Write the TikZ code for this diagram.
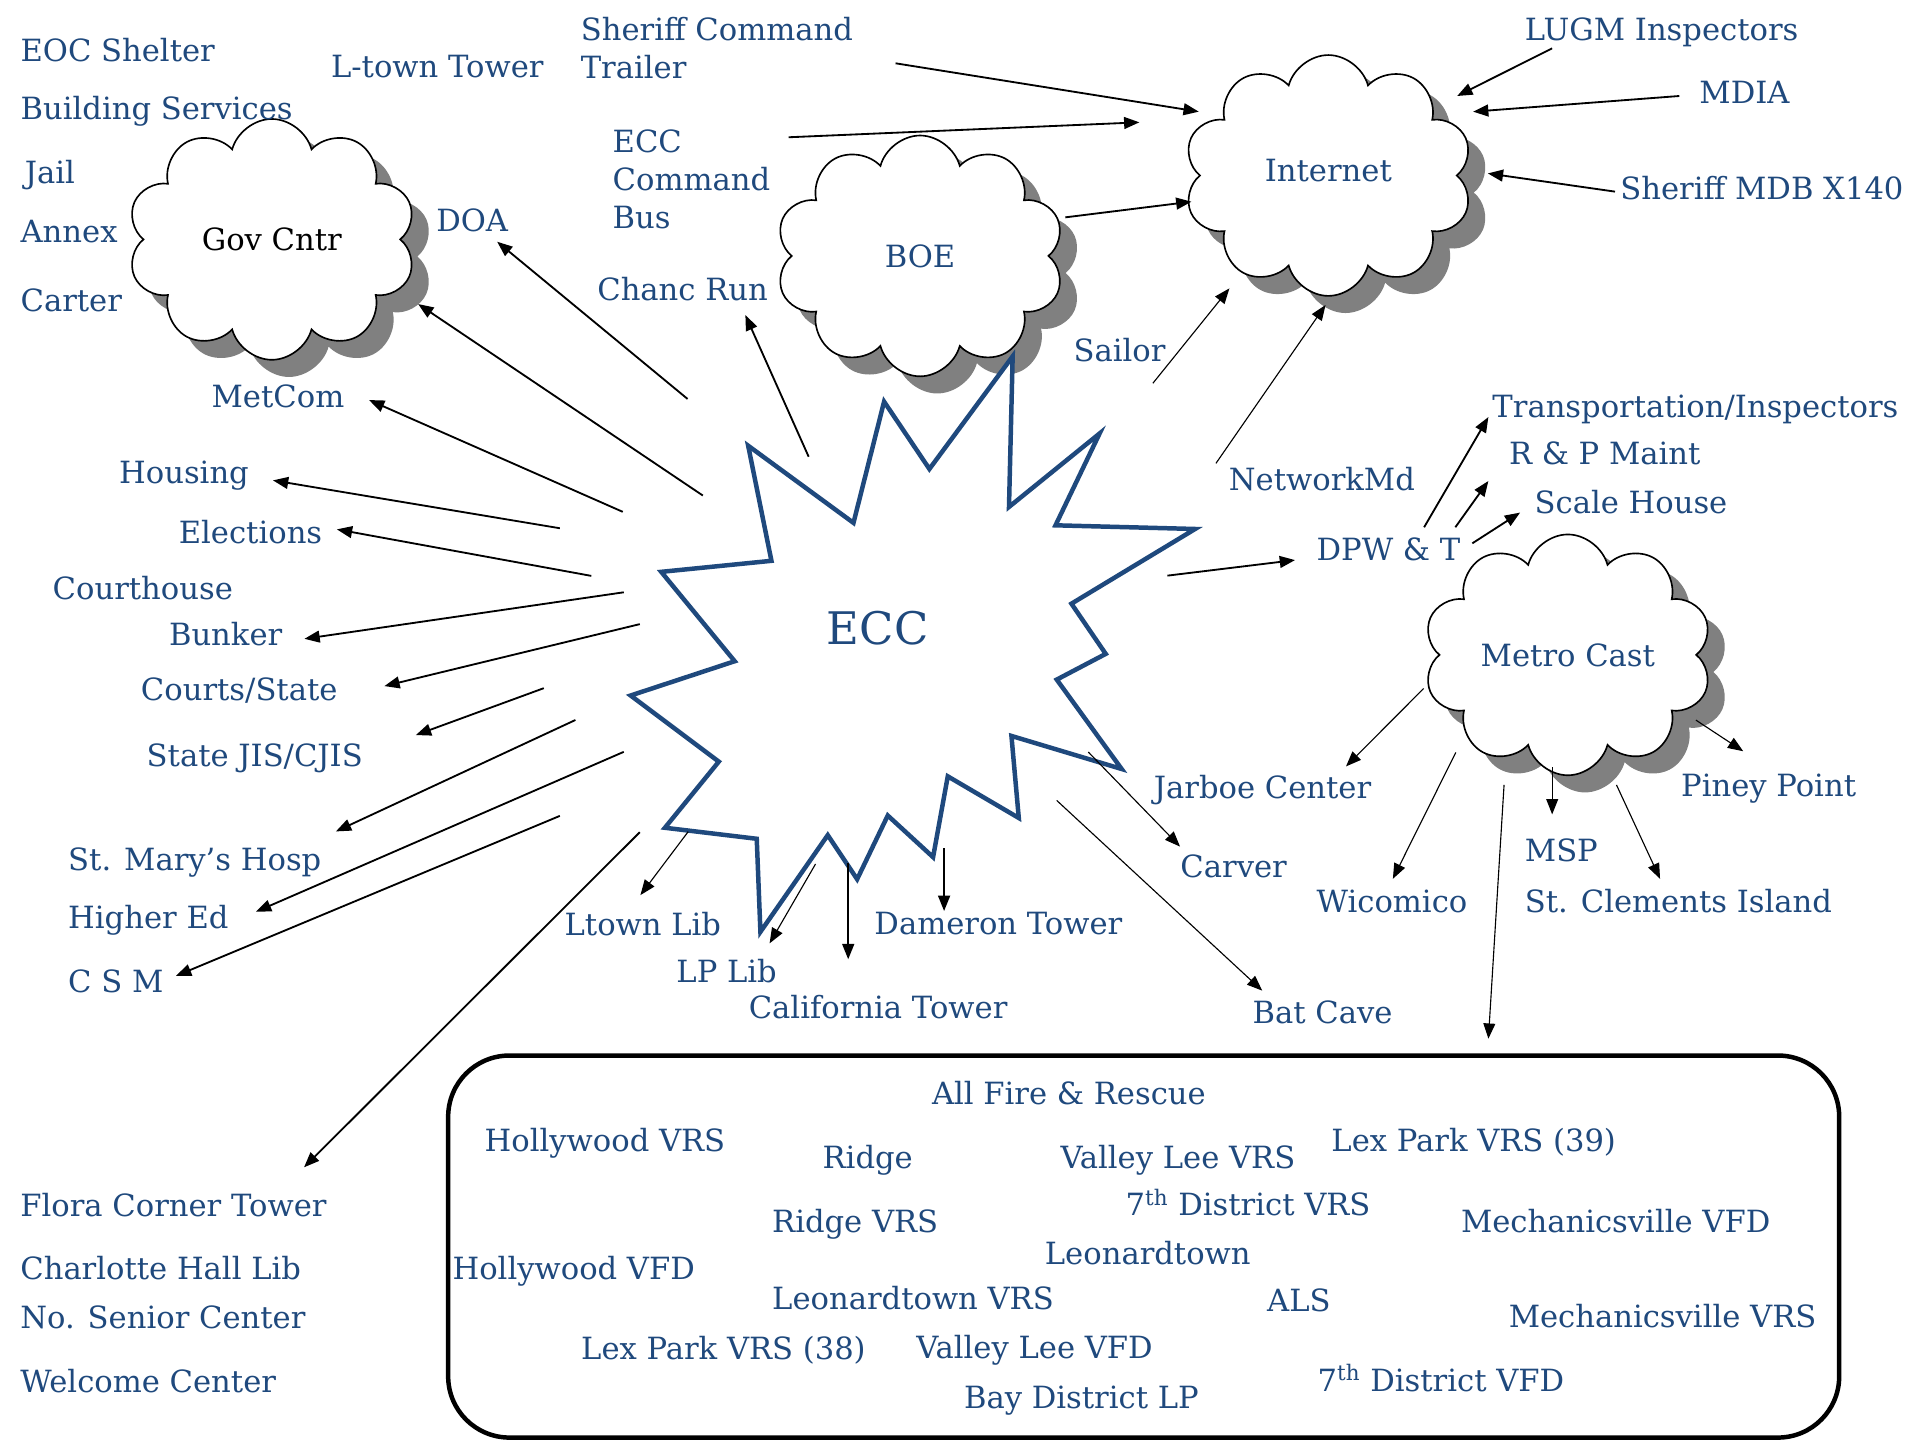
\documentclass[tikz,border=0pt]{standalone}
\usepackage{fontspec}
\setmainfont{DejaVu Serif}
\usetikzlibrary{arrows.meta,shapes.symbols,shadows}
\definecolor{eccblue}{RGB}{31,73,125}
\definecolor{shadowgray}{RGB}{128,128,128}

\begin{document}
\begin{tikzpicture}[x=0.6pt,y=-0.6pt]

\tikzset{
  Label/.style={text=eccblue, font=\fontsize{15}{18.8}\selectfont, inner sep=0pt, anchor=base west},
  Cloud/.style={cloud, cloud puffs=10, cloud ignores aspect, minimum width=141.6pt, minimum height=118pt,
    draw=black, line width=0.8pt, fill=white, text=eccblue, font=\fontsize{15}{18.8}\selectfont,
    drop shadow={shadow xshift=8.4pt, shadow yshift=-8.4pt, fill=shadowgray, opacity=1}},
  Link/.style={-{Triangle[length=7.5pt,width=5.8pt]}, line width=0.9pt},
  Thin/.style={Link, line width=0.55pt},
  Box/.style={draw, line width=2.2pt, rounded corners=30pt, inner sep=0pt, minimum width=681.6pt, minimum height=187.2pt}
}

\useasboundingbox[fill=white] (0,0) rectangle (1568,1176);

\node[Cloud, text=black] (C_gov) at (222,195.5) {Gov Cntr};
\node[Cloud] (C_boe) at (751.4,209) {BOE};
\node[Cloud] (C_net) at (1084.8,143.3) {\raisebox{5.4pt}{Internet}};
\node[Cloud] (C_metro) at (1280.4,534.8) {Metro Cast};

\draw[eccblue, line width=2.2pt, fill=white] (611,364) -- (697,427) -- (722,328) -- (759,383) -- (827,291)
  -- (824,414) -- (898,354) -- (862,429) -- (976,432) -- (875,493) -- (903,534) -- (863,555)
  -- (916,628) -- (826,601) -- (832,668) -- (774,634) -- (762,700) -- (725,666) -- (700,718)
  -- (676,682) -- (621,761) -- (618,685) -- (543,676) -- (587,622) -- (515,568) -- (600,540)
  -- (540,467) -- (630,458) -- cycle;
\node[text=eccblue, font=\fontsize{22}{26}\selectfont, inner sep=0pt, anchor=base west] (S_ecc) at (675,526) {ECC};

\node[Box] (F_box) at (934,1018) {};

\node[Label] (L_eoc) at (16.5,50.4) {EOC Shelter};
\node[Label] (L_ltower) at (270,63.2) {L-town Tower};
\node[Label, anchor=north west, align=left] (L_trailer) at (474,13.7) {Sheriff Command\\Trailer};
\node[Label] (L_build) at (16.5,97.2) {Building Services};
\node[Label] (L_jail) at (20,149.7) {Jail};
\node[Label] (L_annex) at (16.5,198.2) {Annex};
\node[Label] (L_carter) at (16.5,254.5) {Carter};
\node[Label] (L_doa) at (356,189.2) {DOA};
\node[Label, anchor=north west, align=left] (L_bus) at (500,105.4) {ECC\\Command\\Bus};
\node[Label] (L_chanc) at (487.5,245) {Chanc Run};
\node[Label] (L_lugm) at (1245,32.7) {LUGM Inspectors};
\node[Label] (L_mdia) at (1387.5,84.9) {MDIA};
\node[Label] (L_mdb) at (1323,162.8) {Sheriff MDB X140};
\node[Label] (L_sailor) at (876.5,295.3) {Sailor};
\node[Label] (L_metcom) at (172.5,332.6) {MetCom};
\node[Label] (L_transp) at (1218.5,341) {Transportation/Inspectors};
\node[Label] (L_rp) at (1232,379.5) {R \& P Maint};
\node[Label] (L_netmd) at (1003.3,400.4) {NetworkMd};
\node[Label] (L_scale) at (1253,419.6) {Scale House};
\node[Label] (L_housing) at (97,394.7) {Housing};
\node[Label] (L_elect) at (145.7,443.7) {Elections};
\node[Label] (L_dpw) at (1074.9,457.4) {DPW \& T};
\node[Label] (L_court) at (42.7,489.7) {Courthouse};
\node[Label] (L_bunker) at (137.7,527.3) {Bunker};
\node[Label] (L_courts) at (114.8,571.7) {Courts/State};
\node[Label] (L_jis) at (119.5,626.3) {State JIS/CJIS};
\node[Label] (L_jarboe) at (942,652.3) {Jarboe Center};
\node[Label] (L_piney) at (1372.6,650.6) {Piney Point};
\node[Label] (L_hosp) at (55.4,711.3) {St. Mary’s Hosp};
\node[Label] (L_msp) at (1245,703.8) {MSP};
\node[Label] (L_carver) at (963.7,716.7) {Carver};
\node[Label] (L_wicom) at (1074.9,745.1) {Wicomico};
\node[Label] (L_clem) at (1245,745.1) {St. Clements Island};
\node[Label] (L_highed) at (55.4,758) {Higher Ed};
\node[Label] (L_ltlib) at (460.8,763.6) {Ltown Lib};
\node[Label] (L_dameron) at (713.8,763.5) {Dameron Tower};
\node[Label] (L_lplib) at (552.1,802.5) {LP Lib};
\node[Label] (L_csm) at (55.4,810.3) {C S M};
\node[Label] (L_calif) at (611.2,831.6) {California Tower};
\node[Label] (L_bat) at (1022.6,836) {Bat Cave};
\node[Label] (L_flora) at (16.3,993.6) {Flora Corner Tower};
\node[Label] (L_charl) at (16.3,1045.3) {Charlotte Hall Lib};
\node[Label] (L_senior) at (16.3,1084.8) {No. Senior Center};
\node[Label] (L_welcome) at (16.3,1137.3) {Welcome Center};

\node[Label] (F_all) at (760.8,901.8) {All Fire \& Rescue};
\node[Label] (F_hvrs) at (395.5,940.5) {Hollywood VRS};
\node[Label] (F_ridge) at (671.5,954.1) {Ridge};
\node[Label] (F_vlvrs) at (865.8,954.1) {Valley Lee VRS};
\node[Label] (F_lp39) at (1087,940.5) {Lex Park VRS (39)};
\node[Label] (F_7vrs) at (919,992.8) {7\textsuperscript{th} District VRS};
\node[Label] (F_rvrs) at (630.3,1006.4) {Ridge VRS};
\node[Label] (F_mvfd) at (1192.8,1006.4) {Mechanicsville VFD};
\node[Label] (F_ltown) at (853,1032.5) {Leonardtown};
\node[Label] (F_hvfd) at (369.3,1044.7) {Hollywood VFD};
\node[Label] (F_ltvrs) at (630.3,1069.8) {Leonardtown VRS};
\node[Label] (F_als) at (1034.5,1071.1) {ALS};
\node[Label] (F_mvrs) at (1231.8,1084) {Mechanicsville VRS};
\node[Label] (F_lp38) at (474.3,1110.6) {Lex Park VRS (38)};
\node[Label] (F_vlvfd) at (748,1109.2) {Valley Lee VFD};
\node[Label] (F_7vfd) at (1075.8,1136.5) {7\textsuperscript{th} District VFD};
\node[Label] (F_bay) at (787,1150.1) {Bay District LP};

\coordinate (A_doa) at (561.5,325.8);     \coordinate (B_doa) at (406,197.4);
\coordinate (A_gov) at (574,404.7);       \coordinate (B_gov) at (341.5,248.3);
\coordinate (A_metcom) at (508.6,418);    \coordinate (B_metcom) at (301.4,326.7);
\coordinate (A_chanc) at (660.4,373);     \coordinate (B_chanc) at (608.7,257.3);
\coordinate (A_housing) at (457.2,431.4); \coordinate (B_housing) at (222.9,392.3);
\coordinate (A_elect) at (482.9,470.3);   \coordinate (B_elect) at (275.1,432.3);
\coordinate (A_bunker) at (509.4,483.7);  \coordinate (B_bunker) at (248.6,521.7);
\coordinate (A_courts) at (522.5,509.7);  \coordinate (B_courts) at (313.9,560.3);
\coordinate (A_jis) at (444.1,562);       \coordinate (B_jis) at (339.6,600.3);
\coordinate (A_hosp) at (469.9,588);      \coordinate (B_hosp) at (274.3,679);
\coordinate (A_highed) at (509.4,614);    \coordinate (B_highed) at (209,744.6);
\coordinate (A_csm) at (457.2,666.3);     \coordinate (B_csm) at (143.7,797);
\coordinate (A_flora) at (522.5,679.6);   \coordinate (B_flora) at (248.3,953.3);
\coordinate (A_ltlib) at (562,679.2);     \coordinate (B_ltlib) at (523,731);
\coordinate (A_lplib) at (666,705.6);     \coordinate (B_lplib) at (628.5,770.4);
\coordinate (A_calif) at (692.7,705);     \coordinate (B_calif) at (692.7,783.4);
\coordinate (A_dameron) at (771,692.8);   \coordinate (B_dameron) at (771,744);
\coordinate (A_carver) at (888.8,614.2);  \coordinate (B_carver) at (963.7,691.4);
\coordinate (A_bat) at (863,653.7);       \coordinate (B_bat) at (1030.8,809);
\coordinate (A_dpw) at (953.4,470.1);     \coordinate (B_dpw) at (1057.6,457.4);

\coordinate (A_transp) at (1163,430.6);   \coordinate (B_transp) at (1215.5,340.6);
\coordinate (A_rp) at (1188.5,430.6);     \coordinate (B_rp) at (1215.5,392.8);
\coordinate (A_scale) at (1202.4,443.7);  \coordinate (B_scale) at (1241.4,418.6);

\coordinate (A_jarboe) at (1162.6,562.3); \coordinate (B_jarboe) at (1099.2,625.9);
\coordinate (A_wicom) at (1188.9,614.5);  \coordinate (B_wicom) at (1137.5,717.7);
\coordinate (A_fire) at (1228.3,641);     \coordinate (B_fire) at (1215.5,848.3);
\coordinate (A_msp) at (1267.6,626.5);    \coordinate (B_msp) at (1267.6,665.1);
\coordinate (A_clem) at (1320.1,641);     \coordinate (B_clem) at (1355.7,717.7);
\coordinate (A_piney) at (1385,588.1);    \coordinate (B_piney) at (1423.6,613.5);

\coordinate (A_trailer) at (731.4,51.7);  \coordinate (B_trailer) at (979,91.2);
\coordinate (A_bus) at (644,112.1);       \coordinate (B_bus) at (930.5,99.9);
\coordinate (A_boe) at (870,177.5);       \coordinate (B_boe) at (973,164.7);
\coordinate (A_lugm) at (1267.5,39.5);    \coordinate (B_lugm) at (1190,78.4);
\coordinate (A_mdia) at (1371.4,78.4);    \coordinate (B_mdia) at (1203,91.2);
\coordinate (A_mdb) at (1318.9,156.5);    \coordinate (B_mdb) at (1215,141.6);
\coordinate (A_sailor) at (941.5,313);    \coordinate (B_sailor) at (1004,235.5);
\coordinate (A_netmd) at (993,378.4);     \coordinate (B_netmd) at (1082.5,249.1);

\draw[Link] (A_doa) -- (B_doa);
\draw[Link] (A_gov) -- (B_gov);
\draw[Link] (A_metcom) -- (B_metcom);
\draw[Link] (A_chanc) -- (B_chanc);
\draw[Link] (A_housing) -- (B_housing);
\draw[Link] (A_elect) -- (B_elect);
\draw[Link] (A_bunker) -- (B_bunker);
\draw[Link] (A_courts) -- (B_courts);
\draw[Link] (A_jis) -- (B_jis);
\draw[Link] (A_hosp) -- (B_hosp);
\draw[Link] (A_highed) -- (B_highed);
\draw[Link] (A_csm) -- (B_csm);
\draw[Link] (A_flora) -- (B_flora);
\draw[Thin] (A_ltlib) -- (B_ltlib);
\draw[Thin] (A_lplib) -- (B_lplib);
\draw[Link] (A_calif) -- (B_calif);
\draw[Link] (A_dameron) -- (B_dameron);
\draw[Thin] (A_carver) -- (B_carver);
\draw[Thin] (A_bat) -- (B_bat);
\draw[Link] (A_dpw) -- (B_dpw);

\draw[Link] (A_transp) -- (B_transp);
\draw[Link] (A_rp) -- (B_rp);
\draw[Link] (A_scale) -- (B_scale);

\draw[Thin] (A_jarboe) -- (B_jarboe);
\draw[Thin] (A_wicom) -- (B_wicom);
\draw[Thin] (A_fire) -- (B_fire);
\draw[Thin] (A_msp) -- (B_msp);
\draw[Thin] (A_clem) -- (B_clem);
\draw[Thin] (A_piney) -- (B_piney);

\draw[Link] (A_trailer) -- (B_trailer);
\draw[Link] (A_bus) -- (B_bus);
\draw[Link] (A_boe) -- (B_boe);
\draw[Link] (A_lugm) -- (B_lugm);
\draw[Link] (A_mdia) -- (B_mdia);
\draw[Link] (A_mdb) -- (B_mdb);
\draw[Thin] (A_sailor) -- (B_sailor);
\draw[Thin] (A_netmd) -- (B_netmd);

\end{tikzpicture}
\end{document}
